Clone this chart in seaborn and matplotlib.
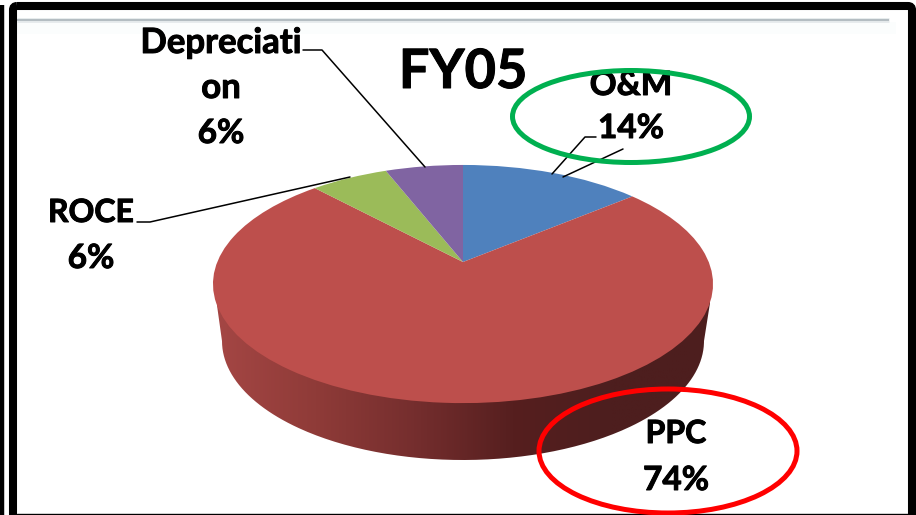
import numpy as np
import matplotlib
matplotlib.use('Agg')
import matplotlib.pyplot as plt
import matplotlib.patheffects as pe
import seaborn as sns
from matplotlib.colors import LinearSegmentedColormap
from matplotlib.patches import Ellipse, FancyBboxPatch, PathPatch, Rectangle
from matplotlib.path import Path
from matplotlib.transforms import Transform

# Data
categories = ['O&M', 'PPC', 'ROCE', 'Depreciation']
shares = [14, 74, 6, 6]
slice_colors = ['#4F81BD', '#BD4F4C', '#9BBB59', '#8064A2']
side_colors = ['#A44644', '#8F3B38', '#752E2E', '#561F1F', '#4D1E1E', '#4D1E1E']
title = 'FY05'


class TiltTransform(Transform):
    """Lays the unit-circle pie down in perspective, output in pixels."""
    input_dims = 2
    output_dims = 2
    is_separable = False

    def __init__(self, cx, cy, sx, sy, tilt):
        super().__init__()
        self.cx, self.cy, self.sx, self.sy, self.tilt = cx, cy, sx, sy, tilt

    def transform_non_affine(self, values):
        values = np.asarray(values, dtype=float)
        w = 1 + self.tilt * values[:, 1]
        return np.column_stack([self.cx + self.sx * values[:, 0] / w,
                                self.cy - self.sy * values[:, 1] / w])


sns.set_theme(style='white')
plt.rcParams['font.family'] = ['Lato', 'DejaVu Sans']

fig = plt.figure(figsize=(9.16, 5.15), dpi=100)
ax = fig.add_axes([0, 0, 1, 1])

# Top of the pie
top = TiltTransform(463, 262, 245.7, 115, 0.185)
wedges, _ = ax.pie(shares, colors=sns.color_palette(slice_colors),
                   startangle=90, counterclock=False,
                   wedgeprops={'edgecolor': 'none', 'linewidth': 0})
for wedge in wedges:
    wedge.set_transform(top + ax.transData)
    wedge.set_zorder(3)

# Side wall, only the front of the PPC slice shows
theta = np.linspace(np.pi, 2 * np.pi, 200)
bottom_edge = np.column_stack([463 + 241 * np.cos(theta), 341 + 119 * np.sin(-theta)])
outline = np.vstack([[[214, 284]], bottom_edge, [[713, 284]]])
cmap = LinearSegmentedColormap.from_list('side', side_colors)
im = ax.imshow(np.linspace(0, 1, 256).reshape(1, -1), cmap=cmap, aspect='auto',
               extent=(217, 710, 470, 270), zorder=2)
im.set_clip_path(PathPatch(Path(outline), transform=ax.transData))

ax.set_aspect('auto')
ax.set_xlim(0, 916)
ax.set_ylim(515, 0)
ax.set_axis_off()

# Slide frame and header rule
ax.add_patch(Rectangle((17, 22), 879, 12, color='#FBFDFD', lw=0, zorder=1))
ax.plot([17, 889], [20, 20], color='#E4E9EB', lw=3.4, solid_capstyle='butt', zorder=1)
ax.plot([17, 889], [20, 20], color='#B3BCC1', lw=1.4, solid_capstyle='butt', zorder=1)
ax.add_patch(FancyBboxPatch((13, 6), 899, 530, boxstyle='round,pad=0,rounding_size=4',
                            fc='none', ec='black', lw=5.8, zorder=6))
ax.plot([2, 2], [5, 515], color='black', lw=3.2, solid_capstyle='butt', zorder=6)
ax.plot([17, 908], [513.5, 513.5], color='black', lw=1, zorder=6)

# Leader lines
leaders = [([303, 322, 425], [50, 50, 167]),
           ([137, 150, 350], [222, 222, 177]),
           ([596, 585, 552], [137, 137, 174]),
           ([623, 563], [149, 177])]
for xs, ys in leaders:
    ax.plot(xs, ys, color='black', lw=1.1, zorder=4)

# Labels, Lato bold is a little lighter and wider in caps than the slide font
heavier = [pe.withStroke(linewidth=0.7, foreground='black')]
labels = [('Depreciati', 221, 53, 25), ('on', 221, 98, 25), ('6%', 221, 143, 24),
          ('ROCE', 91, 222, 23), ('6%', 91, 268, 24),
          ('O&M', 631, 95, 24), ('14%', 631, 138, 24),
          ('PPC', 676, 443, 23), ('74%', 676, 490, 24)]
for text, x, y, size in labels:
    ax.text(x, y, text, ha='center', va='baseline', fontsize=size, fontweight='bold',
            color='black', zorder=5, path_effects=heavier)
ax.text(463, 88, title, ha='center', va='baseline', fontsize=39, fontweight='bold',
        color='black', zorder=5, path_effects=heavier)

# Hand-drawn highlight rings
ax.add_patch(Ellipse((631, 116.5), 237, 92, fc='none', ec='#00B050', lw=3.6, zorder=7))
ax.add_patch(Ellipse((668, 451), 258, 124, fc='none', ec='#FF0000', lw=3.6, zorder=7))

fig.savefig('out.png', dpi=100)
